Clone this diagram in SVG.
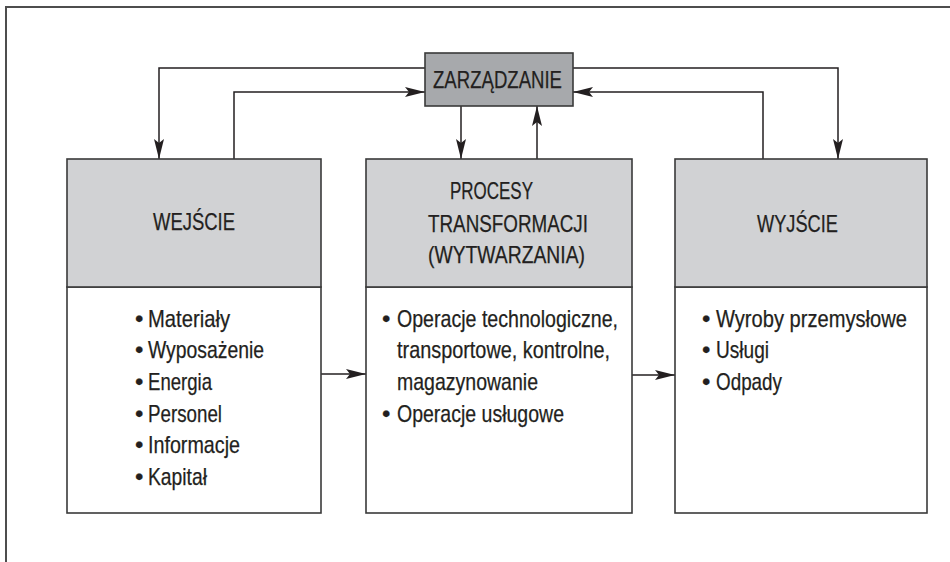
<svg xmlns="http://www.w3.org/2000/svg" width="950" height="562" viewBox="0 0 950 562">
<style>
text{font-family:"Liberation Sans",Arial,sans-serif;fill:#231f20;font-size:24px;stroke:#231f20;stroke-width:0.25}
.head{fill:#d1d2d4;stroke:#3a3a3a;stroke-width:1.6}
.body{fill:#ffffff;stroke:#3a3a3a;stroke-width:1.6}
.mgmt{fill:#a7a9ac;stroke:#3a3a3a;stroke-width:1.6}
.conn{fill:none;stroke:#231f20;stroke-width:1.5}
.frame{fill:none;stroke:#4d4d4d;stroke-width:2}
</style>
<defs>
<marker id="arr" viewBox="0 0 20 10" refX="20" refY="5" markerWidth="20" markerHeight="10" markerUnits="userSpaceOnUse" orient="auto">
<path d="M0,0 L20,5 L0,10 L4,5 Z" fill="#231f20"/>
</marker>
</defs>
<rect width="950" height="562" fill="#ffffff"/>
<path class="frame" d="M6,562 L6,7 L950,7"/>

<g id="connectors">
<path class="conn" d="M425,68 L159,68 L159,159" marker-end="url(#arr)"/>
<path class="conn" d="M234,159 L234,92 L425,92" marker-end="url(#arr)"/>
<path class="conn" d="M461,106 L461,159" marker-end="url(#arr)"/>
<path class="conn" d="M537,159 L537,106" marker-end="url(#arr)"/>
<path class="conn" d="M573,68 L838,68 L838,159" marker-end="url(#arr)"/>
<path class="conn" d="M763,159 L763,92 L573,92" marker-end="url(#arr)"/>
<path class="conn" d="M321,374 L366,374" marker-end="url(#arr)"/>
<path class="conn" d="M632,375 L675,375" marker-end="url(#arr)"/>
</g>

<g id="zarzadzanie">
<rect class="mgmt" x="425" y="53" width="148" height="53"/>
<text x="433" y="88" font-size="22" textLength="129" lengthAdjust="spacingAndGlyphs">ZARZĄDZANIE</text>
</g>

<g id="wejscie">
<rect class="body" x="67" y="287" width="254" height="226"/>
<rect class="head" x="67" y="159" width="254" height="128"/>
<text x="153" y="230" textLength="82" lengthAdjust="spacingAndGlyphs">WEJŚCIE</text>
<text x="135" y="327">•</text><text x="148" y="327" textLength="82" lengthAdjust="spacingAndGlyphs">Materiały</text>
<text x="135" y="358">•</text><text x="148" y="358" textLength="116" lengthAdjust="spacingAndGlyphs">Wyposażenie</text>
<text x="135" y="390">•</text><text x="148" y="390" textLength="64" lengthAdjust="spacingAndGlyphs">Energia</text>
<text x="135" y="422">•</text><text x="148" y="422" textLength="74" lengthAdjust="spacingAndGlyphs">Personel</text>
<text x="135" y="453">•</text><text x="148" y="453" textLength="92" lengthAdjust="spacingAndGlyphs">Informacje</text>
<text x="135" y="485">•</text><text x="148" y="485" textLength="59" lengthAdjust="spacingAndGlyphs">Kapitał</text>
</g>

<g id="procesy">
<rect class="body" x="366" y="287" width="266" height="226"/>
<rect class="head" x="366" y="159" width="266" height="128"/>
<text x="450" y="199" textLength="83" lengthAdjust="spacingAndGlyphs">PROCESY</text>
<text x="428" y="232" textLength="160" lengthAdjust="spacingAndGlyphs">TRANSFORMACJI</text>
<text x="428" y="263" textLength="157" lengthAdjust="spacingAndGlyphs">(WYTWARZANIA)</text>
<text x="382" y="327">•</text><text x="397" y="327" textLength="221" lengthAdjust="spacingAndGlyphs">Operacje technologiczne,</text>
<text x="397" y="358" textLength="213" lengthAdjust="spacingAndGlyphs">transportowe, kontrolne,</text>
<text x="397" y="390" textLength="141" lengthAdjust="spacingAndGlyphs">magazynowanie</text>
<text x="382" y="422">•</text><text x="397" y="422" textLength="167" lengthAdjust="spacingAndGlyphs">Operacje usługowe</text>
</g>

<g id="wyjscie">
<rect class="body" x="675" y="287" width="252" height="226"/>
<rect class="head" x="675" y="159" width="252" height="128"/>
<text x="757" y="232" textLength="81" lengthAdjust="spacingAndGlyphs">WYJŚCIE</text>
<text x="702" y="327">•</text><text x="716" y="327" textLength="191" lengthAdjust="spacingAndGlyphs">Wyroby przemysłowe</text>
<text x="702" y="358">•</text><text x="716" y="358" textLength="53" lengthAdjust="spacingAndGlyphs">Usługi</text>
<text x="702" y="390">•</text><text x="716" y="390" textLength="66" lengthAdjust="spacingAndGlyphs">Odpady</text>
</g>
</svg>
